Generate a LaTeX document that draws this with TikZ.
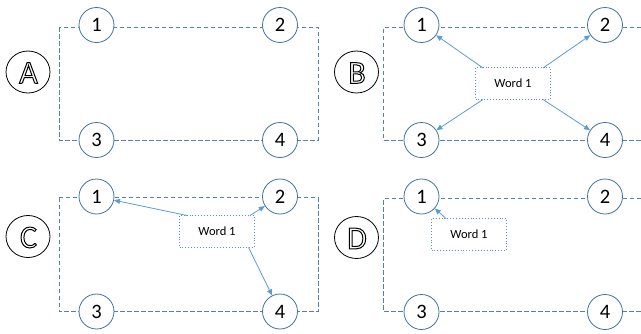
\documentclass[tikz,border=0pt]{standalone}
\usepackage{fontspec}
\setmainfont{Carlito}
\usetikzlibrary{arrows.meta,shapes.geometric}
\definecolor{circblue}{HTML}{41719C}
\definecolor{dashblue}{HTML}{5580B0}
\definecolor{arrblue}{HTML}{5B9BD5}
\definecolor{boxblue}{HTML}{5B8FD0}
\tikzset{
  num/.style={circle,draw=circblue,line width=0.8pt,fill=white,minimum size=35pt,inner sep=0pt,font=\fontsize{20.5}{22}\selectfont},
  letter/.style={ellipse,draw=black,line width=0.8pt,fill=white,minimum width=44pt,minimum height=42pt,inner sep=0pt},
  frame/.style={draw=dashblue,line width=1pt,dash pattern=on 4.5pt off 2.5pt},
  wordbox/.style={draw=boxblue,line width=0.9pt,dotted,fill=white,minimum width=75pt,minimum height=32pt,inner sep=0pt,font=\fontsize{12.5}{14}\selectfont},
  arr/.style={draw=arrblue,line width=0.8pt,-{Triangle[length=6pt,width=5pt]}}
}
\newcommand{\hollow}[1]{{\fontsize{32}{33}\selectfont\special{pdf:literal direct 1 Tr 1 w}#1\special{pdf:literal direct 0 Tr}}}
\begin{document}
\begin{tikzpicture}[x=1pt,y=-1pt]
\useasboundingbox (0,0) rectangle (641,333);
% ---------- A ----------
\draw[frame] (59,27) rectangle (318,140);
\node[num] (a1) at (96.5,25) {1};
\node[num] (a2) at (280,25) {2};
\node[num] (a3) at (96.5,140) {3};
\node[num] (a4) at (280,140) {4};
\node[letter] (la) at (28,72) {};
\node (ta) at (28.5,73) {\hollow{A}};
% ---------- B ----------
\draw[frame] (641,27) -- (383.5,27) -- (383.5,140) -- (641,140);
\node[num] (b1) at (421.5,25) {1};
\node[num] (b2) at (605,25) {2};
\node[num] (b3) at (421.5,140) {3};
\node[num] (b4) at (605,140) {4};
\node[letter] (lb) at (356.5,72) {};
\node (tb) at (357,73) {\hollow{B}};
\node[wordbox] (wb) at (513,83.5) {Word 1};
\coordinate (wb1) at (483,68);
\coordinate (wb2) at (543,68);
\coordinate (wb3) at (483,99.5);
\coordinate (wb4) at (543,99.5);
\draw[arr] (wb1) -- (b1);
\draw[arr] (wb2) -- (b2);
\draw[arr] (wb3) -- (b3);
\draw[arr] (wb4) -- (b4);
% ---------- C ----------
\draw[frame] (59,197.5) rectangle (318,311.5);
\node[num] (c1) at (96.5,196.5) {1};
\node[num] (c2) at (280,196.5) {2};
\node[num] (c3) at (96.5,311.5) {3};
\node[num] (c4) at (280,311.5) {4};
\node[letter] (lc) at (28,236.5) {};
\node (tc) at (28.5,237.5) {\hollow{C}};
\node[wordbox] (wc) at (217,231.5) {Word 1};
\coordinate (wc1) at (187,215.5);
\coordinate (wc2) at (250,215.5);
\coordinate (wc4) at (248.5,247.5);
\draw[arr] (wc1) -- (c1);
\draw[arr] (wc2) -- (c2);
\draw[arr] (wc4) -- (c4);
% ---------- D ----------
\draw[frame] (641,198.5) -- (383.5,198.5) -- (383.5,311.5) -- (641,311.5);
\node[num] (d1) at (421.5,196.5) {1};
\node[num] (d2) at (605,196.5) {2};
\node[num] (d3) at (421.5,312) {3};
\node[num] (d4) at (605,312) {4};
\node[letter] (ld) at (356.5,237.5) {};
\node (td) at (357,238.5) {\hollow{D}};
\node[wordbox] (wd) at (469,234.5) {Word 1};
\coordinate (wd1) at (446,218.5);
\draw[arr] (wd1) -- (d1);
\end{tikzpicture}
\end{document}
